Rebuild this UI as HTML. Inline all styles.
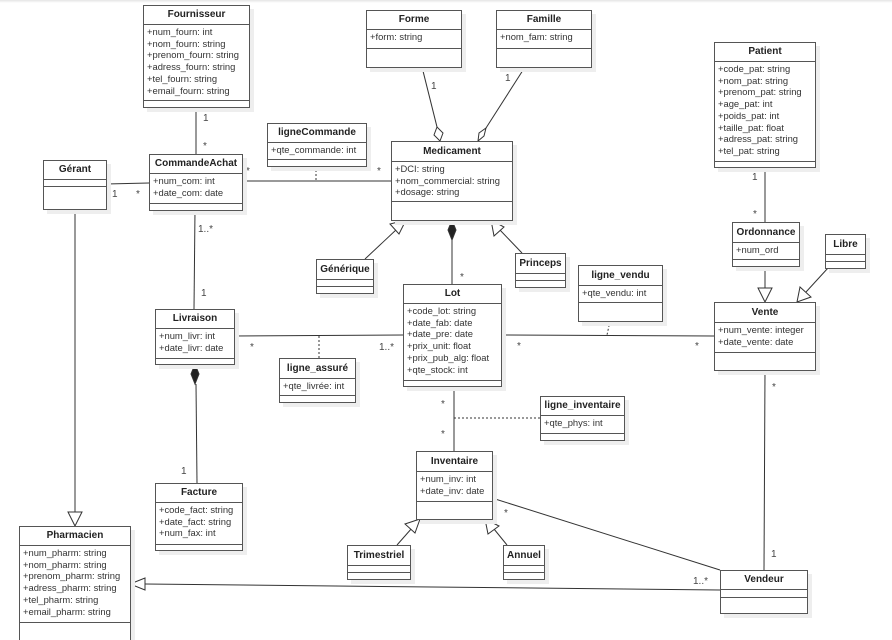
<!DOCTYPE html>
<html><head><meta charset="utf-8"><style>
html,body{margin:0;padding:0;background:#fff;width:892px;height:640px;overflow:hidden;position:relative}
.c{position:absolute;border:1px solid #555;background:#fff;box-shadow:4px 4px 0 #eee;font-family:"Liberation Sans",sans-serif;box-sizing:border-box;color:#222}
.h{font-weight:bold;font-size:10px;text-align:center;border-bottom:1px solid #555;box-sizing:border-box;height:19px;line-height:18px}
.a{border-bottom:1px solid #555;box-sizing:border-box;padding:1px 0 0 3px;font-size:9.4px;line-height:11.7px;white-space:nowrap;color:#333}
.e{border-bottom:1px solid #555;height:7px;box-sizing:border-box}
svg{position:absolute;left:0;top:0}
.t{font-family:"Liberation Sans",sans-serif;font-size:10px;fill:#444}
</style></head><body>
<div style="position:absolute;left:0;top:0;width:892px;height:3px;background:linear-gradient(#e4e4e4,#fff)"></div>
<svg width="892" height="640" viewBox="0 0 892 640">
<g stroke="#333" stroke-width="1" fill="none">
<line x1="196" y1="107" x2="196" y2="154"/>
<line x1="106" y1="184" x2="149" y2="183"/>
<line x1="242" y1="181" x2="391" y2="181"/>
<line x1="316" y1="166" x2="316" y2="181" stroke-dasharray="2,2"/>
<line x1="195" y1="210" x2="194" y2="309"/>
<line x1="422" y1="67" x2="437" y2="127"/>
<path d="M437,127 L443,133 L440,141 L434,135 Z" fill="#fff"/>
<line x1="525" y1="67" x2="486" y2="128"/>
<path d="M486,128 L484,136 L478,141 L479,133 Z" fill="#fff"/>
<line x1="365" y1="259" x2="397" y2="229"/>
<path d="M406,220 L390,224 L399,234 Z" fill="#fff"/>
<line x1="522" y1="253" x2="499" y2="229"/>
<path d="M491,220 L494,236 L504,227 Z" fill="#fff"/>
<line x1="452" y1="240" x2="452" y2="284"/>
<path d="M452,220 L456,230 L452,240 L448,230 Z" fill="#222"/>
<line x1="234" y1="336" x2="404" y2="335"/>
<line x1="319" y1="336" x2="319" y2="358" stroke-dasharray="2,2"/>
<line x1="501" y1="335" x2="714" y2="336"/>
<line x1="610" y1="321" x2="607" y2="335" stroke-dasharray="2,2"/>
<line x1="765" y1="167" x2="765" y2="222"/>
<line x1="765" y1="266" x2="765" y2="288"/>
<path d="M765,302 L758,288 L772,288 Z" fill="#fff"/>
<line x1="828" y1="268" x2="806" y2="292"/>
<path d="M797,302 L800,287 L811,297 Z" fill="#fff"/>
<line x1="196" y1="384" x2="197" y2="483"/>
<path d="M195,364 L199,374 L195,384 L191,374 Z" fill="#222"/>
<line x1="454" y1="386" x2="454" y2="451"/>
<line x1="454" y1="418" x2="540" y2="418" stroke-dasharray="2,2"/>
<line x1="75" y1="209" x2="75" y2="512"/>
<path d="M75,526 L68,512 L82,512 Z" fill="#fff"/>
<line x1="492" y1="498" x2="720" y2="570"/>
<line x1="765" y1="370" x2="764" y2="570"/>
<line x1="397" y1="545" x2="412" y2="528"/>
<path d="M420,519 L405,524 L415,533 Z" fill="#fff"/>
<line x1="507" y1="545" x2="494" y2="529"/>
<path d="M485,519 L488,534 L499,526 Z" fill="#fff"/>
<line x1="720" y1="590" x2="145" y2="584"/>
<path d="M130,584 L145,578 L145,590 Z" fill="#fff"/>
</g>
<g class="t">
<text x="203" y="121">1</text><text x="203" y="149">*</text>
<text x="112" y="197">1</text><text x="136" y="197">*</text>
<text x="246" y="174">*</text><text x="377" y="174">*</text>
<text x="198" y="232">1..*</text><text x="201" y="296">1</text>
<text x="431" y="89">1</text><text x="505" y="81">1</text>
<text x="460" y="280">*</text>
<text x="250" y="350">*</text><text x="379" y="350">1..*</text>
<text x="517" y="349">*</text><text x="695" y="349">*</text>
<text x="752" y="180">1</text><text x="753" y="217">*</text>
<text x="181" y="474">1</text>
<text x="441" y="407">*</text><text x="441" y="437">*</text>
<text x="504" y="516">*</text><text x="693" y="584">1..*</text>
<text x="772" y="390">*</text><text x="771" y="557">1</text>
</g>
</svg>

<div class="c" style="left:143px;top:5px;width:107px;height:103px"><div class="h">Fournisseur</div><div class="a" style="height:76px">+num_fourn: int<br>+nom_fourn: string<br>+prenom_fourn: string<br>+adress_fourn: string<br>+tel_fourn: string<br>+email_fourn: string</div></div>

<div class="c" style="left:366px;top:10px;width:96px;height:58px"><div class="h">Forme</div><div class="a" style="height:19px">+form: string</div></div>

<div class="c" style="left:496px;top:10px;width:96px;height:58px"><div class="h">Famille</div><div class="a" style="height:19px">+nom_fam: string</div></div>

<div class="c" style="left:714px;top:42px;width:102px;height:126px"><div class="h">Patient</div><div class="a" style="height:100px">+code_pat: string<br>+nom_pat: string<br>+prenom_pat: string<br>+age_pat: int<br>+poids_pat: int<br>+taille_pat: float<br>+adress_pat: string<br>+tel_pat: string</div></div>

<div class="c" style="left:267px;top:123px;width:100px;height:44px"><div class="h">ligneCommande</div><div class="a" style="height:17px">+qte_commande: int</div></div>

<div class="c" style="left:391px;top:141px;width:122px;height:80px"><div class="h" style="height:20px;line-height:19px">Medicament</div><div class="a" style="height:40px">+DCI: string<br>+nom_commercial: string<br>+dosage: string</div></div>

<div class="c" style="left:43px;top:160px;width:64px;height:50px"><div class="h">Gérant</div><div class="e"></div></div>

<div class="c" style="left:149px;top:154px;width:94px;height:57px"><div class="h">CommandeAchat</div><div class="a" style="height:30px">+num_com: int<br>+date_com: date</div></div>

<div class="c" style="left:316px;top:259px;width:58px;height:35px"><div class="h" style="height:20px;line-height:19px">Générique</div><div class="e"></div></div>

<div class="c" style="left:515px;top:253px;width:51px;height:35px"><div class="h" style="height:20px;line-height:19px">Princeps</div><div class="e"></div></div>

<div class="c" style="left:578px;top:265px;width:85px;height:57px"><div class="h" style="height:20px;line-height:19px">ligne_vendu</div><div class="a" style="height:17px">+qte_vendu: int</div></div>

<div class="c" style="left:732px;top:222px;width:68px;height:45px"><div class="h" style="height:20px;line-height:19px">Ordonnance</div><div class="a" style="height:17px">+num_ord</div></div>

<div class="c" style="left:825px;top:234px;width:41px;height:35px"><div class="h" style="height:20px;line-height:19px">Libre</div><div class="e"></div></div>

<div class="c" style="left:403px;top:284px;width:99px;height:103px"><div class="h">Lot</div><div class="a" style="height:77px">+code_lot: string<br>+date_fab: date<br>+date_pre: date<br>+prix_unit: float<br>+prix_pub_alg: float<br>+qte_stock: int</div></div>

<div class="c" style="left:714px;top:302px;width:102px;height:69px"><div class="h" style="height:20px;line-height:19px">Vente</div><div class="a" style="height:30px">+num_vente: integer<br>+date_vente: date</div></div>

<div class="c" style="left:155px;top:309px;width:80px;height:56px"><div class="h">Livraison</div><div class="a" style="height:30px">+num_livr: int<br>+date_livr: date</div></div>

<div class="c" style="left:279px;top:358px;width:77px;height:45px"><div class="h" style="height:20px;line-height:19px">ligne_assuré</div><div class="a" style="height:17px">+qte_livrée: int</div></div>

<div class="c" style="left:540px;top:396px;width:85px;height:45px"><div class="h">ligne_inventaire</div><div class="a" style="height:18px">+qte_phys: int</div></div>

<div class="c" style="left:416px;top:451px;width:77px;height:69px"><div class="h" style="height:20px;line-height:19px">Inventaire</div><div class="a" style="height:30px">+num_inv: int<br>+date_inv: date</div></div>

<div class="c" style="left:155px;top:483px;width:88px;height:68px"><div class="h">Facture</div><div class="a" style="height:42px">+code_fact: string<br>+date_fact: string<br>+num_fax: int</div></div>

<div class="c" style="left:347px;top:545px;width:64px;height:35px"><div class="h" style="height:20px;line-height:19px">Trimestriel</div><div class="e"></div></div>

<div class="c" style="left:503px;top:545px;width:42px;height:35px"><div class="h" style="height:20px;line-height:19px">Annuel</div><div class="e"></div></div>

<div class="c" style="left:19px;top:526px;width:112px;height:130px"><div class="h">Pharmacien</div><div class="a" style="height:77px">+num_pharm: string<br>+nom_pharm: string<br>+prenom_pharm: string<br>+adress_pharm: string<br>+tel_pharm: string<br>+email_pharm: string</div></div>

<div class="c" style="left:720px;top:570px;width:88px;height:44px"><div class="h">Vendeur</div><div class="e" style="height:8px"></div></div>
</body></html>
